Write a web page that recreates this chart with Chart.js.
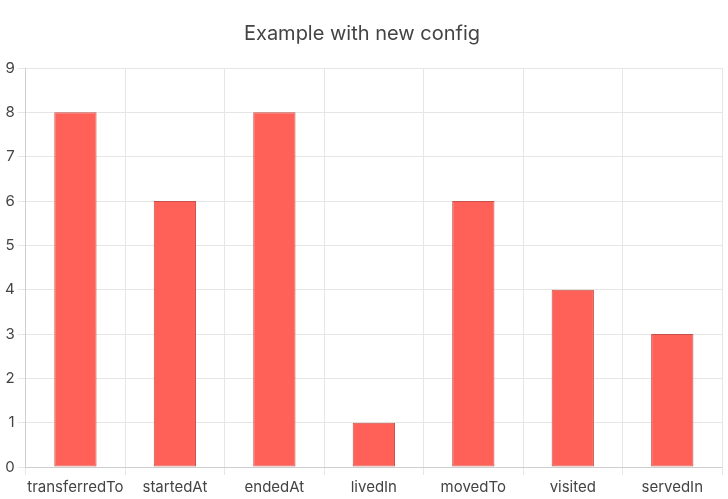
<!DOCTYPE html>
<html>
<head>
<meta charset="utf-8">
<script src="https://cdn.jsdelivr.net/npm/chart.js@4/dist/chart.umd.min.js"></script>
<style>
  html, body { margin: 0; padding: 0; background: #fff; font-family: Inter; }
  #wrap { width: 728px; height: 499px; }
</style>
</head>
<body>
<div id="wrap"><canvas id="BarChart"></canvas></div>
<script>
var relations = ["transferredTo", "startedAt", "endedAt", "livedIn", "movedTo", "visited", "servedIn"];
var relationCount = [8, 6, 8, 1, 6, 4, 3];

Chart.defaults.font.family = "Inter";

var configBar = {
  type: "bar",
  data: {
    labels: relations,
    datasets: [{
      data: relationCount,
      backgroundColor: "rgb(255, 97, 88)",
      borderColor: "rgb(200, 80, 72)",
      borderWidth: 1,
      borderSkipped: false,
      barPercentage: 0.5,
      categoryPercentage: 0.85
    }]
  },
  options: {
    responsive: true,
    maintainAspectRatio: false,
    animation: false,
    layout: { padding: { left: 2, right: 6, bottom: 0 } },
    plugins: {
      legend: { display: false },
      title: {
        display: true,
        text: "Example with new config",
        color: "#444",
        font: { size: 20, weight: "normal" },
        padding: { top: 22, bottom: 22 }
      },
      tooltip: { enabled: false }
    },
    scales: {
      x: {
        grid: { color: "#e6e6e6" },
        ticks: { color: "#444", font: { size: 15 }, maxRotation: 0, minRotation: 0, autoSkip: false }
      },
      y: {
        beginAtZero: true,
        max: 9,
        grid: { color: "#e6e6e6" },
        ticks: { stepSize: 1, color: "#444", font: { size: 15 } }
      }
    }
  }
};

function showBarchart() {
  new Chart(document.getElementById("BarChart"), configBar);
}

Promise.all([
  document.fonts.load("20px Inter"),
  document.fonts.load("15px Inter")
]).then(showBarchart, showBarchart);
</script>
</body>
</html>
